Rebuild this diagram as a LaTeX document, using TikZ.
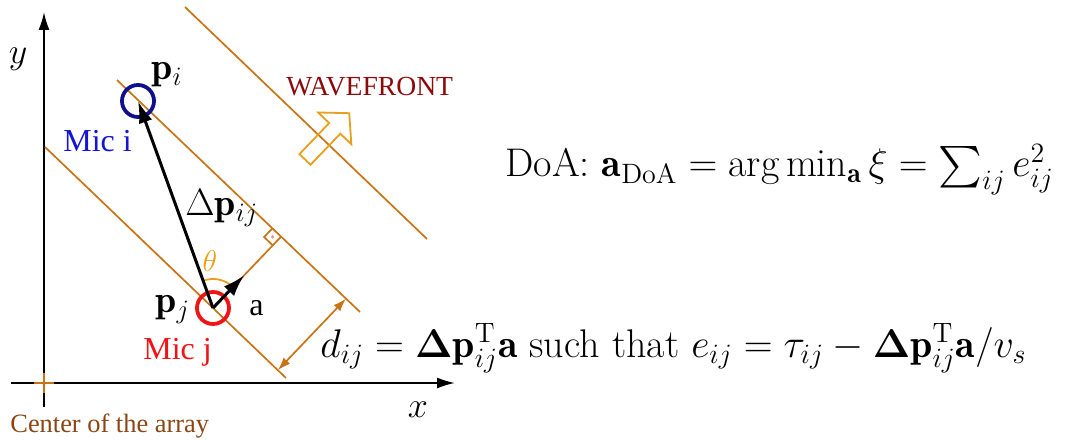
\RequirePackage{fix-cm}
\documentclass[tikz,border=0pt]{standalone}
\usepackage{amsmath}
\usepackage{fontspec}
\usepackage{tikz}
\usetikzlibrary{arrows.meta,calc}
\newfontfamily\timesfont{Liberation Serif}
\definecolor{wfLine}{HTML}{C87414}
\definecolor{wfArrow}{HTML}{E8A01C}
\definecolor{wfText}{HTML}{8B0A0A}
\definecolor{micBlue}{HTML}{10108C}
\definecolor{micBlueText}{HTML}{1414D8}
\definecolor{micRed}{HTML}{F01414}
\definecolor{arrayBrown}{HTML}{8B4513}
\tikzset{
  % Axes
  axis/.style={-{Latex[length=9pt,width=5.5pt]},line width=0.9pt,black},
  % Orange lines (wavefronts, projection)
  wline/.style={line width=0.85pt,draw=wfLine},
  % Microphone circle
  mic/.style={circle,line width=1.9pt,minimum size=16pt,inner sep=0pt},
  % Vectors
  vec/.style={-{Latex[length=11pt,width=7pt]},line width=1.5pt,black},
  % Distance d_ij
  dimarr/.style={{Latex[length=6.5pt,width=4.5pt]}-{Latex[length=6.5pt,width=4.5pt]},
    line width=0.85pt,wfLine},
  % Hollow wavefront arrow
  warrow/.style={line width=0.9pt,draw=wfArrow,line join=miter},
  % Labels
  mathlbl/.style={font=\fontsize{19}{22}\selectfont,inner sep=0pt},
  axlbl/.style={font=\fontsize{18}{21}\selectfont,inner sep=0pt},
  tlbl/.style={font=\timesfont\fontsize{16}{19}\selectfont,inner sep=0pt},
}
\begin{document}
\begin{tikzpicture}[x=0.5pt,y=0.5pt]
  \useasboundingbox (0,0) rectangle (1065,439);

  % axes
  \coordinate (orig) at (44,56);
  \coordinate (xstart) at (11,56);
  \coordinate (xend) at (455,56);
  \coordinate (ystart) at (44,32);
  \coordinate (yend) at (44,427);
  \draw[axis] (xstart) -- (xend);
  \draw[axis] (ystart) -- (yend);
  \draw[wline] ($(orig)+(-10,0)$) -- ($(orig)+(10,0)$)
               ($(orig)+(0,-10)$) -- ($(orig)+(0,10)$);
  \node[axlbl] (ylbl) at (18,380) {$y$};
  \node[axlbl] (xlbl) at (418,29) {$x$};
  \node[tlbl,font=\timesfont\fontsize{13.2}{15}\selectfont,text=arrayBrown,
    anchor=base west] (center) at (10,7) {Center of the array};

  % wavefront lines
  \coordinate (li1) at (117,359);
  \coordinate (li2) at (360,127);
  \coordinate (lj1) at (45,292);
  \coordinate (lj2) at (286,61);
  \coordinate (lw1) at (185,432);
  \coordinate (lw2) at (427,200);
  \draw[wline] (li1) -- (li2);
  \draw[wline] (lj1) -- (lj2);
  \draw[wline] (lw1) -- (lw2);

  % microphones
  \node[mic,draw=micBlue] (mici) at (138,338) {};
  \node[mic,draw=micRed] (micj) at (213,131) {};

  % projection and right angle
  \coordinate (foot) at ($(li1)!(micj.center)!(li2)$);
  \draw[wline] (micj.center) -- (foot);
  \coordinate (rc1) at ($(foot)!6pt!(micj.center)$);
  \coordinate (rc2) at ($(foot)!6pt!(li1)$);
  \coordinate (rc3) at ($(rc1)+(rc2)-(foot)$);
  \draw[wline] (rc1) -- (rc3) -- (rc2);
  \fill[red!45] ($(foot)!0.5!(rc3)$) circle (1.8);

  % angle theta
  \draw[line width=0.9pt,wfArrow] ($(micj.center)+(46.3:29)$)
    arc[start angle=46.3,end angle=109.9,radius=29];
  \node[mathlbl,font=\fontsize{15}{17}\selectfont,text=wfArrow] (theta)
    at (210,178) {$\theta$};

  % vectors
  \draw[vec] (micj.center) -- (mici.center);
  \draw[vec] (micj.center) -- ($(micj.center)!0.46!(foot)$);

  % distance between wavefronts
  \coordinate (dlo) at ($(lj1)!0.966!(lj2)$);
  \coordinate (dhi) at ($(li1)!(dlo)!(li2)$);
  \draw[dimarr] (dlo) -- (dhi);

  % hollow arrow on the wavefront
  \coordinate (wcross) at ($(lw1)!0.573!(lw2)$);
  \draw[warrow,shift={(wcross)},rotate=46.3]
    (-27,-7.7) -- (16,-7.7) -- (16,-23) -- (37,0) -- (16,23)
    -- (16,7.7) -- (-27,7.7) -- cycle;
  \node[tlbl,font=\timesfont\fontsize{13.8}{16}\selectfont,text=wfText,
    anchor=base west] (wftext) at (286,343) {WAVEFRONT};

  % labels
  \node[mathlbl,anchor=base west] (pilbl) at (151,359) {$\mathbf{p}_i$};
  \node[mathlbl,anchor=base west] (pjlbl) at (155,126) {$\mathbf{p}_j$};
  \node[mathlbl,anchor=base west] (dplbl) at (185,223) {$\Delta\mathbf{p}_{ij}$};
  \node[tlbl,anchor=base west] (albl) at (249,123) {a};
  \node[tlbl,text=micBlueText,anchor=base west] (milbl) at (63,287) {Mic i};
  \node[tlbl,text=micRed,anchor=base west] (mjlbl) at (143,79) {Mic j};

  % formulas
  \node[mathlbl,font=\fontsize{20}{23}\selectfont,anchor=base west] (doa)
    at (505,262)
    {DoA: $\mathbf{a}_{\mathrm{DoA}} = \arg\min_{\mathbf{a}} \xi = \sum_{ij} e_{ij}^2$};
  \node[mathlbl,font=\fontsize{20}{23}\selectfont,anchor=base west] (dij)
    at (320,82)
    {$d_{ij} = \boldsymbol{\Delta}\mathbf{p}_{ij}^{\mathrm{T}}\mathbf{a}$ such that
     $e_{ij} = \tau_{ij} - \boldsymbol{\Delta}\mathbf{p}_{ij}^{\mathrm{T}}\mathbf{a}/v_s$};
\end{tikzpicture}
\end{document}
